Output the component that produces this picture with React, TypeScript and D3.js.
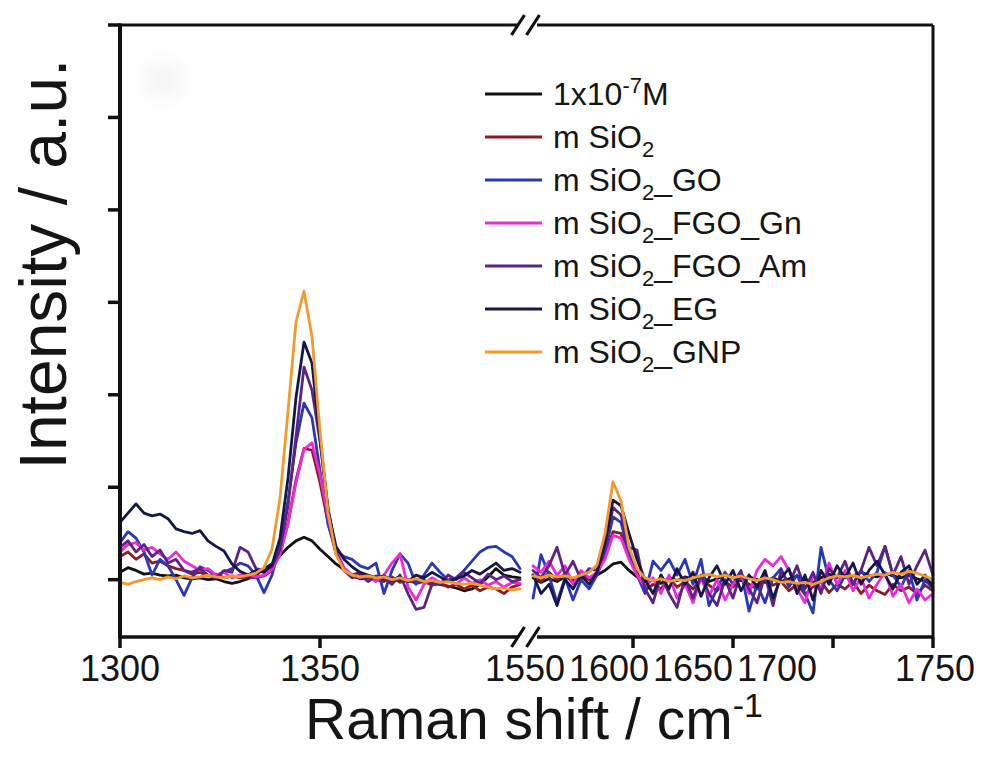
import React from "react";
import * as d3 from "d3";

// Raman shift grids (cm-1) for the two axis segments
const leftShift: number[] = d3.range(1300, 1400.001, 2);
const rightShift: number[] = d3.range(1550, 1750.001, 4);

const xTicksLeft = [1300, 1350];
const xTicksRight = [1600, 1650, 1700, 1750];
const xLabelsLeft = [1300, 1350];
const xLabelsRight = [1550, 1600, 1650, 1700, 1750];
const yTicks = [0, 1, 2, 3, 4, 5, 6];

// series values (a.u.) on the left grid
const blackLeft = [0.08,0.13,0.10,0.06,0.07,0.05,0.04,0.05,0.02,0.01,0.02,0.00,0.01,-0.02,-0.04,-0.02,0.01,0.05,0.12,0.17,0.26,0.35,0.42,0.46,0.42,0.33,0.25,0.17,0.11,0.04,0.01,0.02,0.00,0.01,-0.01,0.00,-0.02,0.00,-0.01,-0.03,-0.05,-0.07,-0.09,-0.12,-0.10,-0.05,0.03,0.12,0.05,0.03,0.02];
const sio2Left = [0.25,0.30,0.22,0.28,0.18,0.20,0.15,0.12,0.10,0.06,0.08,0.04,0.06,0.02,0.04,0.02,0.03,0.02,0.04,0.10,0.28,0.62,1.08,1.42,1.40,1.05,0.62,0.28,0.12,0.05,0.08,0.02,0.00,-0.02,0.03,-0.03,0.00,-0.04,-0.02,-0.06,-0.03,-0.08,-0.05,-0.10,-0.06,-0.12,-0.08,-0.10,-0.15,-0.08,-0.05];
const goLeft = [0.40,0.52,0.45,0.30,0.05,0.22,0.15,0.00,-0.17,0.02,0.14,0.10,0.04,0.08,0.12,0.18,0.15,0.05,-0.14,0.05,0.38,0.85,1.48,1.91,1.75,1.18,0.60,0.32,0.25,0.22,0.15,0.12,0.18,-0.15,0.10,0.28,0.18,-0.05,0.05,0.18,0.08,0.00,0.02,0.10,0.20,0.30,0.35,0.36,0.30,0.25,0.12];
const gnLeft = [0.30,0.38,0.40,0.32,0.35,0.28,0.22,0.30,0.20,0.15,0.10,0.12,0.05,0.08,0.02,0.05,0.06,0.03,0.05,0.11,0.27,0.60,1.05,1.41,1.48,1.13,0.68,0.32,0.13,0.05,0.02,0.04,-0.02,0.05,0.18,0.28,-0.08,-0.22,-0.05,0.02,-0.03,0.00,-0.05,0.02,-0.04,0.00,-0.06,-0.02,-0.08,-0.03,-0.04];
const amLeft = [0.35,0.42,0.30,0.38,0.25,0.32,0.18,0.22,0.10,0.08,0.12,0.05,0.02,0.10,0.08,0.35,0.30,0.12,0.10,0.14,0.32,0.80,1.55,2.30,2.05,1.50,0.78,0.30,0.10,0.02,0.05,-0.02,0.04,0.02,-0.05,0.05,-0.15,-0.32,-0.30,-0.05,-0.05,0.05,0.00,0.08,0.02,-0.04,0.06,0.00,0.04,-0.02,0.00];
const egLeft = [0.62,0.72,0.82,0.72,0.69,0.71,0.66,0.55,0.52,0.50,0.53,0.42,0.36,0.31,0.17,0.09,0.05,0.10,0.08,0.16,0.45,1.10,1.97,2.57,2.34,1.53,0.75,0.36,0.22,0.14,0.08,0.05,0.02,0.04,0.00,0.03,-0.02,0.05,0.02,0.08,0.03,-0.02,0.01,0.04,0.10,0.06,0.12,0.18,0.10,0.12,0.08];
const gnpLeft = [-0.03,-0.05,-0.02,0.00,0.02,0.00,0.03,0.01,0.04,0.02,0.03,0.05,0.03,0.02,0.04,0.03,0.05,0.07,0.13,0.33,0.88,1.82,2.79,3.12,2.63,1.61,0.73,0.27,0.10,0.05,0.03,0.04,0.02,0.03,0.00,0.02,-0.01,0.01,-0.02,-0.01,-0.03,-0.02,-0.04,-0.05,-0.04,-0.06,-0.08,-0.10,-0.09,-0.11,-0.10];

// series values (a.u.) on the right grid
const blackRight = [0.02,-0.03,0.01,-0.02,0.03,0.00,0.04,0.02,0.05,0.10,0.17,0.19,0.10,0.03,-0.02,0.00,-0.04,0.02,-0.01,0.03,0.00,0.04,-0.02,0.01,0.05,0.02,-0.01,0.03,0.00,-0.03,0.02,-0.02,0.01,0.04,0.00,-0.03,0.02,0.06,0.03,0.07,0.04,0.08,0.05,0.03,0.07,0.04,0.02,0.05,0.01,-0.02,-0.04];
const sio2Right = [0.05,-0.02,0.08,0.00,0.06,-0.04,0.03,0.00,0.06,0.25,0.52,0.50,0.28,0.08,-0.12,-0.05,-0.10,0.02,-0.08,-0.02,-0.10,0.00,-0.06,-0.12,-0.02,-0.08,0.02,-0.05,-0.10,0.00,-0.06,-0.02,-0.12,-0.05,-0.16,-0.08,-0.02,-0.14,-0.05,-0.10,-0.02,-0.15,-0.06,-0.12,-0.16,-0.05,-0.12,-0.08,-0.15,-0.06,-0.12];
const goRight = [-0.20,0.27,0.05,-0.25,0.02,-0.22,0.00,-0.10,0.05,0.30,0.68,0.62,0.28,0.05,-0.15,0.20,0.10,0.22,0.05,0.22,-0.05,0.22,-0.28,-0.10,0.08,-0.05,0.10,-0.34,-0.05,-0.25,0.02,0.12,-0.08,0.05,-0.15,-0.36,0.35,0.00,-0.12,0.05,-0.05,0.10,-0.02,0.08,0.36,0.05,-0.08,0.10,-0.22,0.00,-0.10];
const gnRight = [0.15,0.08,0.20,0.05,0.15,-0.05,0.10,0.02,0.08,0.22,0.48,0.45,0.22,0.05,-0.08,0.02,-0.15,0.05,-0.20,-0.05,-0.25,0.02,-0.18,0.00,-0.22,-0.05,0.05,-0.15,0.10,0.22,0.15,0.25,0.10,-0.10,-0.25,0.05,-0.10,0.18,-0.05,0.10,-0.12,0.02,-0.20,-0.05,0.08,-0.18,-0.05,-0.25,-0.10,-0.22,-0.15];
const amRight = [0.10,0.02,0.15,0.35,0.05,0.20,0.00,0.12,0.10,0.35,0.78,0.70,0.35,0.32,-0.10,-0.25,0.05,-0.15,-0.30,0.02,-0.20,0.05,-0.15,-0.28,0.00,-0.20,0.08,-0.10,-0.25,0.05,-0.28,0.10,-0.05,0.15,-0.10,0.08,-0.15,0.12,0.02,0.20,-0.05,0.10,0.35,0.15,0.36,0.05,0.25,-0.05,0.15,0.32,0.05];
const egRight = [0.05,-0.15,-0.05,-0.28,0.00,-0.10,0.05,-0.05,0.08,0.40,0.86,0.80,0.50,0.22,0.00,-0.15,0.05,-0.10,0.12,-0.05,0.08,-0.18,0.02,0.15,-0.05,0.10,-0.12,0.05,-0.08,0.10,-0.20,0.02,0.12,-0.15,0.05,-0.22,0.10,-0.05,0.15,0.02,0.18,-0.05,0.10,0.20,0.05,-0.10,0.08,0.15,-0.05,0.05,-0.08];
const gnpRight = [0.04,0.02,0.05,0.03,0.04,0.02,0.05,0.08,0.16,0.50,1.06,0.85,0.35,0.12,0.02,-0.01,0.01,-0.02,0.00,-0.01,0.02,0.04,0.06,0.03,0.05,0.02,0.04,0.01,-0.01,0.02,0.00,-0.03,-0.02,-0.04,-0.03,-0.05,-0.02,0.02,0.04,0.03,0.05,0.02,0.04,0.06,0.05,0.08,0.06,0.09,0.07,0.04,0.00];

const seriesColors = ["#111111", "#8e1b22", "#2838b8", "#ee2ad8", "#5b2483", "#16164a", "#f39a2e"];
const leftSets = [blackLeft, sio2Left, goLeft, gnLeft, amLeft, egLeft, gnpLeft];
const rightSets = [blackRight, sio2Right, goRight, gnRight, amRight, egRight, gnpRight];
// legend labels: [main, script kind, script, tail]
const legendParts: [string, string, string, string][] = [
  ["1x10", "sup", "-7", "M"],
  ["m SiO", "sub", "2", ""],
  ["m SiO", "sub", "2", "_GO"],
  ["m SiO", "sub", "2", "_FGO_Gn"],
  ["m SiO", "sub", "2", "_FGO_Am"],
  ["m SiO", "sub", "2", "_EG"],
  ["m SiO", "sub", "2", "_GNP"],
];

const W = 982;
const H = 757;
const FONT = "'Liberation Sans', Arial, Helvetica, sans-serif";

export default function App() {
  const yTop = 25, yBot = 637, xLeft = 120, xRight = 933;
  const y = d3.scaleLinear().domain([-0.62, 6]).range([yBot, yTop]);
  const xL = d3.scaleLinear().domain([1300, 1400]).range([120, 520]);
  const xR = d3.scaleLinear().domain([1550, 1750]).range([533, 933]);
  const labelShiftRight = [-8, -24, -40, -56, 2];

  const lineL = d3.line<number>().x((_, i) => xL(leftShift[i])).y((d) => y(d));
  const lineR = d3.line<number>().x((_, i) => xR(rightShift[i])).y((d) => y(d));

  const breakL = 518, breakR = 533;
  const axisColor = "#111";
  const slash = (cx: number, cy: number) => `M${cx - 6.5},${cy + 10}L${cx + 6.5},${cy - 10}`;

  const legX0 = 485, legX1 = 542, legTx = 553, legY0 = 94, legDy = 43;

  return (
    <svg width={W} height={H} viewBox={`0 0 ${W} ${H}`} style={{ position: "absolute", left: 0, top: 0, background: "#fff" }} fontFamily={FONT}>
      <defs>
        <filter id="blur" x="-50%" y="-50%" width="200%" height="200%">
          <feGaussianBlur stdDeviation="10" />
        </filter>
      </defs>
      <rect x={0} y={0} width={W} height={H} fill="#fff" />
      <ellipse cx={163} cy={80} rx={20} ry={18} fill="#ececec" filter="url(#blur)" opacity={0.6} />

      {/* data */}
      <g fill="none" strokeWidth={2.8} strokeLinejoin="round" strokeLinecap="round">
        {leftSets.map((vals, i) => (
          <path key={"l" + i} d={lineL(vals) || ""} stroke={seriesColors[i]} />
        ))}
        {rightSets.map((vals, i) => (
          <path key={"r" + i} d={lineR(vals) || ""} stroke={seriesColors[i]} />
        ))}
      </g>

      {/* frame */}
      <g stroke={axisColor} fill="none" strokeWidth={3.5}>
        <line x1={xLeft} y1={yTop - 1.5} x2={xLeft} y2={yBot + 1.5} strokeWidth={4} />
        <line x1={xRight} y1={yTop} x2={xRight} y2={yBot} strokeWidth={3} />
        <line x1={xLeft} y1={yTop} x2={breakL} y2={yTop} strokeWidth={3} />
        <line x1={breakR + 4} y1={yTop} x2={xRight} y2={yTop} strokeWidth={3} />
        <line x1={xLeft} y1={yBot} x2={breakL} y2={yBot} />
        <line x1={breakR + 4} y1={yBot} x2={xRight} y2={yBot} />
        <path d={slash(breakL, yTop) + slash(breakR, yTop)} strokeWidth={3.2} />
        <path d={slash(breakL, yBot) + slash(breakR, yBot)} strokeWidth={3.2} />
        {yTicks.map((t) => (
          <line key={"yt" + t} x1={xLeft - 12} x2={xLeft} y1={y(t)} y2={y(t)} strokeWidth={3.5} />
        ))}
        {xTicksLeft.map((t) => (
          <line key={"xl" + t} x1={xL(t)} x2={xL(t)} y1={yBot} y2={yBot + 11} strokeWidth={3.5} />
        ))}
        {xTicksRight.map((t) => (
          <line key={"xr" + t} x1={xR(t)} x2={xR(t)} y1={yBot} y2={yBot + 11} strokeWidth={3.5} />
        ))}
      </g>

      {/* tick labels */}
      <g fontSize={36} fill="#151515" textAnchor="middle">
        {xLabelsLeft.map((t) => (
          <text key={"ll" + t} x={xL(t)} y={681}>{t}</text>
        ))}
        {xLabelsRight.map((t, i) => (
          <text key={"lr" + t} x={xR(t) + labelShiftRight[i]} y={681}>{t}</text>
        ))}
      </g>

      {/* axis titles */}
      <text transform={`translate(66,264) rotate(-90)`} textAnchor="middle" fontSize={66} fill="#151515">
        Intensity / a.u.
      </text>
      <text x={305} y={739} fontSize={57} fill="#151515">
        Raman shift / cm
        <tspan fontSize={34} dy={-22}>-1</tspan>
      </text>

      {/* legend */}
      <g>
        {legendParts.map((p, i) => {
          const ly = legY0 + i * legDy;
          const isSup = p[1] === "sup";
          const shift = isSup ? -12 : 9;
          return (
            <g key={"lg" + i}>
              <line x1={legX0} x2={legX1} y1={ly} y2={ly} stroke={seriesColors[i]} strokeWidth={3} />
              <text x={legTx} y={ly + 11} fontSize={32} fill="#151515">
                {p[0]}
                <tspan fontSize={22} dy={shift}>{p[2]}</tspan>
                {p[3] ? <tspan dy={-shift}>{p[3]}</tspan> : null}
              </text>
            </g>
          );
        })}
      </g>
    </svg>
  );
}
